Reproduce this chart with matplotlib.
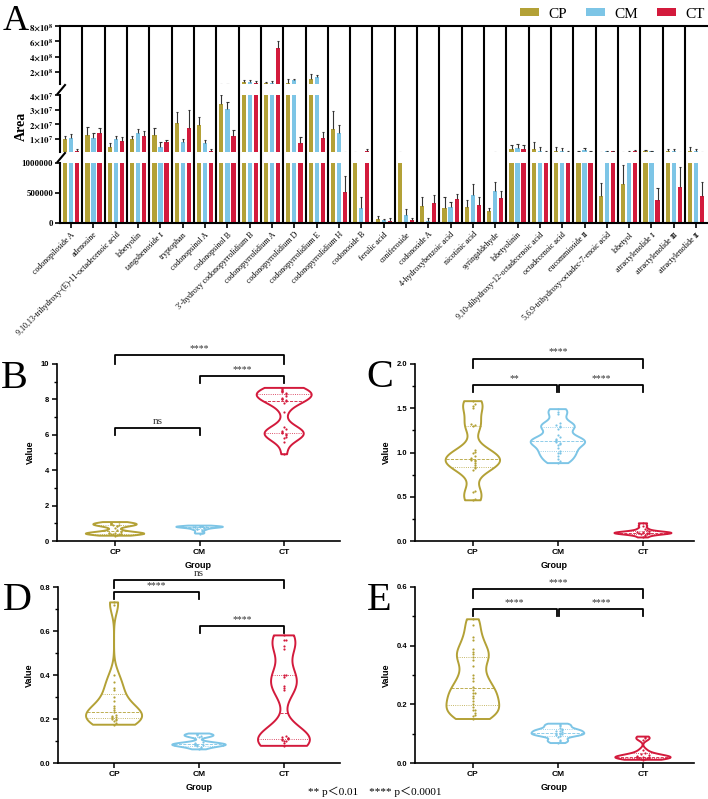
import numpy as np
import matplotlib.pyplot as plt
from matplotlib import mlab
from matplotlib.patches import Patch
from matplotlib.lines import Line2D

plt.rcParams['mathtext.fontset'] = 'stix'
SERIF = ['Liberation Serif', 'DejaVu Serif']
SANS = ['Liberation Sans', 'DejaVu Sans']

# ---- data: panel A (mean and SD of peak area) ----
compounds = ['codonopiloside A', 'adenosine', '9,10,13-trihydroxy-(E)-11-octadecenoic acid',
             'lobetyolin', 'tangshenoside Ⅰ', 'tryptophan', 'codonopsinol A', 'codonopsinol B',
             "3'-hydroxy codonopyrrolidium B", 'codonopyrrolidium A', 'codonopyrrolidium D',
             'codonopyrrolidium E', 'codonopyrrolidium H', 'codonoside B', 'ferulic acid',
             'coniferoside', 'codonoside A', '4-hydroxybenzoic acid', 'nicotinic acid',
             'syringaldehyde', 'lobetyolinin', '9,10-dihydroxy-12-octadecenoic acid',
             'octadecenoic acid', 'eucommioside Ⅱ', '5,6,9-trihydroxy-octadec-7-enoic acid',
             'lobetyol', 'atractylenolide Ⅰ', 'atractylenolide Ⅲ', 'atractylenolide Ⅱ']

cp_mean = [9.8e6, 1.27e7, 4.7e6, 9.8e6, 1.29e7, 2.08e7, 1.96e7, 3.41e7, 6.6e7, 5.3e7, 5.3e7, 1.1e8,
           1.69e7, 1.02e6, 6.7e4, 1.02e6, 2.83e5, 2.45e5, 2.7e5, 2.0e5, 2.9e6, 2.9e6, 1.7e6, 1.2e6,
           4.5e5, 6.5e5, 1.4e6, 1.6e6, 1.8e6]
cp_sd = [2.4e6, 5.3e6, 2.3e6, 2.4e6, 4.4e6, 7.6e6, 5.3e6, 5.7e6, 2.6e7, 8e6, 4.7e7, 6.1e7,
         1.19e7, 1.8e5, 5.3e4, 1.8e5, 1.47e5, 1.95e5, 1.2e5, 4.5e4, 2.9e6, 4.8e6, 3.0e6, 4e5,
         2.2e5, 3.2e5, 8e5, 1.4e6, 2.5e6]
cm_mean = [1.09e7, 1.07e7, 1.02e7, 1.43e7, 4.7e6, 7.7e6, 7.5e6, 3.07e7, 6.6e7, 5.8e7, 9.2e7, 1.28e8,
           1.41e7, 2.45e5, 5e4, 1.33e5, 4e4, 2.6e5, 4.7e5, 5.4e5, 3.5e6, 1.9e6, 1.7e6, 2.4e6,
           1.5e6, 1.2e6, 1.6e6, 1.7e6, 1.7e6]
cm_sd = [2.3e6, 3.6e6, 1.8e6, 2.6e6, 3.4e6, 2.5e6, 1.8e6, 4.3e6, 2.6e7, 2.1e7, 1.8e7, 3.0e7,
         5.5e6, 1.85e5, 1.7e4, 9.7e4, 4e4, 9e4, 1.8e5, 1.4e5, 3.0e6, 2.8e6, 2.1e6, 1.1e6,
         4e5, 3e5, 4e5, 1.4e6, 1.3e6]
ct_mean = [1.9e6, 1.39e7, 8.8e6, 1.2e7, 7.7e6, 1.75e7, 1.9e6, 1.2e7, 5.3e7, 5.07e8, 7.2e6, 1.07e7,
           5.2e5, 1.7e6, 3.3e4, 5e4, 3.3e5, 4e5, 3e5, 4.2e5, 2.9e6, 1.2e6, 1.2e6, 1.2e6,
           1.5e6, 1.4e6, 3.8e5, 6e5, 4.5e5]
ct_sd = [1.0e6, 3.8e6, 2.4e6, 3.5e6, 1.8e6, 1.24e7, 1.0e6, 4.2e6, 2.6e7, 9.3e7, 4.0e6, 4.3e6,
         2.6e5, 1.6e6, 5.7e4, 4e4, 1.4e5, 8e4, 1.3e5, 1.1e5, 3.1e6, 4e5, 3e5, 3e5,
         4e5, 1e6, 2e5, 3.3e5, 2.4e5]

groups = ['CP', 'CM', 'CT']
colors = ['#B3A136', '#7DC5E6', '#D31A3C']

# ---- data: panels B-E (individual values) ----
B_data = [[0.30, 0.34, 0.37, 0.39, 0.40, 0.41, 0.42, 0.44, 0.46, 0.48, 0.52, 0.60, 0.75, 0.84,
           0.87, 0.90, 0.92, 0.95, 0.97, 1.00, 1.03, 1.07],
          [0.42, 0.48, 0.55, 0.62, 0.66, 0.70, 0.73, 0.75, 0.77, 0.78, 0.79, 0.80, 0.81, 0.82,
           0.83, 0.85, 0.87],
          [4.9, 5.6, 5.8, 5.9, 6.0, 6.05, 6.1, 6.15, 6.2, 6.3, 6.45, 7.3, 7.8, 7.9, 7.95, 8.0,
           8.05, 8.1, 8.2, 8.3, 8.35, 8.4, 8.45, 8.5, 8.55, 8.6, 8.65]]
C_data = [[0.46, 0.47, 0.55, 0.56, 0.80, 0.82, 0.84, 0.86, 0.88, 0.90, 0.91, 0.92, 0.93, 0.94,
           0.96, 0.99, 1.01, 1.03, 1.30, 1.31, 1.32, 1.50, 1.53, 1.55, 1.58],
          [0.88, 0.90, 0.93, 0.96, 0.99, 1.00, 1.02, 1.05, 1.08, 1.10, 1.11, 1.12, 1.13, 1.14,
           1.15, 1.17, 1.20, 1.27, 1.29, 1.30, 1.31, 1.33, 1.43, 1.46, 1.49],
          [0.04, 0.06, 0.07, 0.08, 0.08, 0.085, 0.09, 0.09, 0.095, 0.10, 0.10, 0.11, 0.12, 0.14,
           0.17, 0.20]]
D_data = [[0.174, 0.18, 0.19, 0.195, 0.20, 0.20, 0.205, 0.21, 0.21, 0.215, 0.22, 0.23, 0.24,
           0.25, 0.26, 0.28, 0.30, 0.33, 0.34, 0.37, 0.40, 0.72, 0.73],
          [0.062, 0.07, 0.075, 0.078, 0.08, 0.082, 0.084, 0.086, 0.088, 0.09, 0.095, 0.118,
           0.122, 0.126, 0.13, 0.134],
          [0.078, 0.09, 0.10, 0.10, 0.105, 0.108, 0.11, 0.112, 0.115, 0.12, 0.125, 0.33, 0.34,
           0.35, 0.39, 0.40, 0.40, 0.52, 0.53, 0.56, 0.56, 0.58]]
E_data = [[0.15, 0.16, 0.165, 0.17, 0.18, 0.18, 0.19, 0.20, 0.21, 0.22, 0.23, 0.24, 0.24, 0.25,
           0.26, 0.28, 0.29, 0.30, 0.33, 0.35, 0.36, 0.37, 0.38, 0.39, 0.42, 0.43, 0.47, 0.49],
          [0.068, 0.075, 0.08, 0.09, 0.092, 0.095, 0.10, 0.10, 0.10, 0.105, 0.108, 0.11, 0.112,
           0.115, 0.12, 0.125, 0.13, 0.134],
          [0.011, 0.013, 0.015, 0.016, 0.017, 0.018, 0.02, 0.02, 0.021, 0.022, 0.024, 0.027,
           0.03, 0.035, 0.045, 0.08, 0.085, 0.09]]

# significance brackets: (group1, group2, line y, leg bottom, label)
B_sig = [(0, 2, 10.5, 10.0, '****'), (1, 2, 9.3, 8.9, '****'), (0, 1, 6.4, 6.0, 'ns')]
C_sig = [(0, 2, 2.06, 1.96, '****'), (0, 0.985, 1.76, 1.68, '**'), (1.015, 2, 1.76, 1.68, '****')]
D_sig = [(0, 2, 0.83, 0.795, 'ns'), (0, 1, 0.778, 0.745, '****'), (1.015, 2, 0.623, 0.59, '****')]
E_sig = [(0, 2, 0.593, 0.564, '****'), (0, 0.985, 0.526, 0.50, '****'), (1.015, 2, 0.526, 0.50, '****')]

W, H = 708, 799
fig = plt.figure(figsize=(W / 100, H / 100), dpi=100)


def box(x0, y0, x1, y1):
    return [x0 / W, 1 - y1 / H, (x1 - x0) / W, (y1 - y0) / H]


# ---------------- Panel A: broken y axis bar chart ----------------
ax_top = fig.add_axes(box(60, 26, 707.3, 84))
ax_mid = fig.add_axes(box(60, 95, 707.3, 152))
ax_bot = fig.add_axes(box(60, 163, 707.3, 223))
x = np.arange(len(compounds))
offs = [-0.27, 0.0, 0.27]
means = [cp_mean, cm_mean, ct_mean]
sds = [cp_sd, cm_sd, ct_sd]

for ax, lim in ((ax_top, (4e7, 8e8)), (ax_mid, (1e6, 4e7)), (ax_bot, (0, 1e6))):
    for k in range(3):
        m = np.array(means[k])
        s = np.array(sds[k])
        ax.bar(x + offs[k], m, width=0.19, color=colors[k], zorder=2)
        ax.vlines(x + offs[k], m, m + s, color='#333333', lw=0.8, zorder=3)
        ax.hlines(m + s, x + offs[k] - 0.05, x + offs[k] + 0.05, color='#333333', lw=0.8, zorder=3)
    ax.set_xlim(-0.5, 28.5)
    ax.set_ylim(*lim)
    ax.spines['right'].set_visible(False)
    ax.spines['left'].set_linewidth(1.5)
    ax.tick_params(axis='y', direction='out', length=3.5, width=1.2, labelsize=6, pad=1.5)
    for t in ax.get_yticklabels():
        t.set_fontfamily(SERIF)

ax_top.spines['bottom'].set_visible(False)
ax_top.spines['top'].set_linewidth(1.5)
ax_mid.spines['top'].set_visible(False)
ax_mid.spines['bottom'].set_visible(False)
ax_bot.spines['top'].set_visible(False)
ax_bot.spines['bottom'].set_linewidth(1.5)
for ax in (ax_top, ax_mid):
    ax.tick_params(axis='x', bottom=False, labelbottom=False)

ax_top.set_yticks([2e8, 4e8, 6e8, 8e8])
ax_top.set_yticklabels([r'$\mathbf{%d{\times}10^{8}}$' % v for v in (2, 4, 6, 8)], fontsize=6.3)
ax_mid.set_yticks([1e7, 2e7, 3e7, 4e7])
ax_mid.set_yticklabels([r'$\mathbf{%d{\times}10^{7}}$' % v for v in (1, 2, 3, 4)], fontsize=6.3)
ax_bot.set_yticks([0, 5e5, 1e6])
ax_bot.set_yticklabels(['0', '500000', '1000000'], fontsize=6.3, fontweight='bold', family=SERIF)
ax_bot.set_xticks(x)
ax_bot.set_xticklabels(compounds, rotation=45, ha='right', va='top', rotation_mode='anchor',
                       fontsize=5.8, family=SERIF)
ax_bot.tick_params(axis='x', direction='out', length=3.5, width=1.2, pad=2)

# group separators running through the breaks
ax_sep = fig.add_axes(box(60, 26, 707.3, 223))
ax_sep.set_xlim(-0.5, 28.5)
ax_sep.set_ylim(0, 1)
ax_sep.axis('off')
ax_sep.vlines(np.arange(0.5, 28), 0, 1, color='black', lw=1.5)

# break marks on the y axis
for yc in (89.5, 157.5):
    fig.add_artist(Line2D([57.5 / W, 65 / W], [1 - (yc + 4.5) / H, 1 - (yc - 4.5) / H],
                          transform=fig.transFigure, color='black', lw=1.5))

fig.text(21 / W, 1 - 126 / H, 'Area', rotation=90, ha='center', va='center',
         fontsize=10, fontweight='bold', family=SERIF)
fig.text(3 / W, 1 - 30 / H, 'A', fontsize=26, family=SERIF, va='baseline')

handles = [Patch(facecolor=c) for c in colors]
fig.legend(handles, groups, loc='center right', bbox_to_anchor=(705 / W, 1 - 14 / H), ncol=3,
           frameon=False, prop={'family': SERIF, 'size': 11}, handlelength=1.2,
           handleheight=0.5, handletextpad=0.65, columnspacing=1.25, borderpad=0,
           borderaxespad=0)


# ---------------- Panels B-E: violin plots ----------------
def swarm_offsets(vals, step, window):
    order = np.argsort(vals)
    out = np.zeros(len(vals))
    placed = []
    pattern = [0, 1, -1, 2, -2, 3, -3]
    for i in order:
        n = sum(1 for j in placed if abs(vals[j] - vals[i]) < window)
        out[i] = pattern[n % len(pattern)] * step
        placed.append(i)
    return out


def violin_panel(rect, data, sig, ylim, major, minor, fmt, xlim, widths, bw, letter, lpos):
    ax = fig.add_axes(rect)
    for k, d in enumerate(data):
        d = np.array(d)
        vp = ax.violinplot([d], positions=[k], widths=widths[k], showextrema=False, bw_method=bw)
        body = vp['bodies'][0]
        body.set_facecolor('none')
        body.set_edgecolor(colors[k])
        body.set_linewidth(1.4)
        body.set_alpha(1)
        ys = np.linspace(d.min(), d.max(), 300)
        dens = mlab.GaussianKDE(d, bw).evaluate(ys)
        half = dens / dens.max() * widths[k] / 2
        q1, med, q3 = np.percentile(d, [25, 50, 75])
        for q, ls in ((q1, ':'), (med, '--'), (q3, ':')):
            hw = np.interp(q, ys, half)
            ax.plot([k - hw, k + hw], [q, q], color=colors[k], lw=0.6, ls=ls)
        jit = swarm_offsets(d, 0.025, (ylim[1] - ylim[0]) * 0.012)
        ax.scatter(k + jit, d, s=2.5, color=colors[k], lw=0, zorder=3)
    for g1, g2, yl, yb, txt in sig:
        ax.plot([g1, g1, g2, g2], [yb, yl, yl, yb], color='black', lw=1.3, clip_on=False)
        ax.annotate(txt, xy=((g1 + g2) / 2, yl), xytext=(0, 1.5), textcoords='offset points',
                    ha='center', va='bottom', fontsize=7 if txt.startswith('*') else 8,
                    family=SERIF, color='#333333', annotation_clip=False)
    ax.set_xlim(*xlim)
    ax.set_ylim(*ylim)
    ax.set_yticks(major)
    ax.set_yticks(minor, minor=True)
    ax.set_yticklabels([fmt % v for v in major])
    ax.set_xticks([0, 1, 2])
    ax.set_xticklabels(groups)
    for s in ('top', 'right'):
        ax.spines[s].set_visible(False)
    for s in ('left', 'bottom'):
        ax.spines[s].set_linewidth(1.2)
    ax.tick_params(axis='both', which='major', length=3.5, width=1.1, labelsize=5.5, pad=2)
    ax.tick_params(axis='y', which='minor', length=2, width=1.0)
    for t in ax.get_xticklabels() + ax.get_yticklabels():
        t.set_fontweight('bold')
        t.set_fontfamily(SANS)
    for t in ax.get_xticklabels():
        t.set_fontsize(6)
    ax.set_xlabel('Group', fontsize=6.5, fontweight='bold', family=SANS, labelpad=3.5)
    ax.set_ylabel('Value', fontsize=6.5, fontweight='bold', family=SANS, labelpad=4)
    fig.text(lpos[0] / W, 1 - lpos[1] / H, letter, fontsize=29, family=SERIF, va='baseline')
    return ax


violin_panel(box(57, 364, 340, 541), B_data, B_sig, (0, 10), np.arange(0, 11, 2),
             np.arange(0, 11, 1), '%d', (-0.686, 2.66), [0.69, 0.55, 0.65], 0.3, 'B', (1, 388))
violin_panel(box(415, 364, 694, 541), C_data, C_sig, (0, 2), np.arange(0, 2.01, 0.5),
             np.arange(0, 2.01, 0.25), '%.1f', (-0.68, 2.6), [0.64, 0.64, 0.67], 0.3, 'C', (366, 387))
violin_panel(box(58, 587, 340, 763), D_data, D_sig, (0, 0.8), np.arange(0, 0.81, 0.2),
             np.arange(0, 0.81, 0.1), '%.1f', (-0.66, 2.66), [0.66, 0.63, 0.61], 0.3, 'D', (3, 610))
violin_panel(box(415, 587, 694, 763), E_data, E_sig, (0, 0.6), np.arange(0, 0.61, 0.2),
             np.arange(0, 0.61, 0.1), '%.1f', (-0.68, 2.6), [0.62, 0.62, 0.65], 0.3, 'E', (367, 610))

fig.text(375 / W, 1 - 792 / H, '** p＜0.01    **** p＜0.0001', ha='center', va='center',
         fontsize=8, family=['Liberation Serif', 'Noto Sans CJK SC'])

fig.savefig('out.png', dpi=100)
